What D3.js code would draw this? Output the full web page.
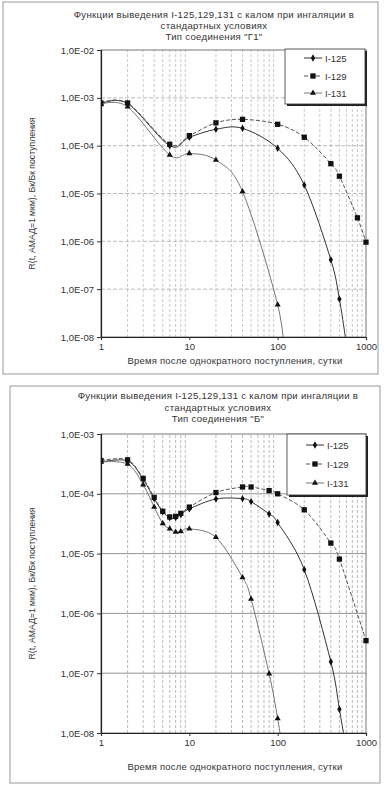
<!DOCTYPE html>
<html>
<head>
<meta charset="utf-8">
<script src="https://cdn.jsdelivr.net/npm/d3@7"></script>
<style>
  body { margin: 0; background: #fff; }
  svg { display: block; font-family: "Liberation Sans", Arial, sans-serif; }
</style>
</head>
<body>
<div id="chart"></div>
<script>
"use strict";

// Тип соединения "Г1"
const g1Days125 = [1, 2, 6, 10, 20, 40, 100, 200, 400, 500, 600];
const g1I125 = [7.5e-4, 7.6e-4, 1.0e-4, 1.5e-4, 2.2e-4, 2.3e-4, 8.8e-5, 1.5e-5, 4.1e-7, 6.2e-8, 7e-9];
const g1Days129 = [1, 2, 6, 10, 20, 40, 100, 200, 400, 500, 800, 1000];
const g1I129 = [7.8e-4, 7.8e-4, 1.07e-4, 1.62e-4, 3.0e-4, 3.55e-4, 2.8e-4, 1.5e-4, 4.2e-5, 2.3e-5, 3.1e-6, 9.6e-7];
const g1Days131 = [1, 2, 6, 10, 20, 40, 100, 120];
const g1I131 = [7.3e-4, 6.5e-4, 6.4e-5, 6.9e-5, 5.0e-5, 1.1e-5, 4.7e-8, 3e-9];

// Тип соединения "Б"
const bDays125 = [1, 2, 3, 4, 5, 6, 7, 8, 10, 20, 40, 50, 80, 100, 200, 400, 500, 600];
const bI125 = [3.4e-4, 3.55e-4, 1.75e-4, 8.3e-5, 5.0e-5, 4.0e-5, 4.0e-5, 4.5e-5, 5.6e-5, 8.2e-5, 8.3e-5, 7.4e-5, 4.6e-5, 3.3e-5, 5.4e-6, 1.55e-7, 2.5e-8, 5e-9];
const bDays129 = [1, 2, 3, 4, 5, 6, 7, 8, 10, 20, 40, 50, 80, 100, 200, 400, 500, 1000];
const bI129 = [3.6e-4, 3.7e-4, 1.81e-4, 8.7e-5, 5.1e-5, 4.1e-5, 4.2e-5, 4.7e-5, 6.0e-5, 1.05e-4, 1.3e-4, 1.3e-4, 1.13e-4, 1.0e-4, 5.4e-5, 1.5e-5, 8.1e-6, 3.5e-7];
const bDays131 = [1, 2, 3, 4, 5, 6, 7, 8, 10, 20, 40, 50, 80, 100, 120];
const bI131 = [3.4e-4, 3.15e-4, 1.42e-4, 6.0e-5, 3.2e-5, 2.6e-5, 2.3e-5, 2.35e-5, 2.6e-5, 1.87e-5, 4.0e-6, 1.74e-6, 9.8e-8, 1.75e-8, 3e-9];

const seriesNames = ["I-125", "I-129", "I-131"];
const xTickLabels = ["1", "10", "100", "1000"];
const titleLine1 = "Функции выведения I-125,129,131 с калом при ингаляции в";
const titleLine2 = "стандартных условиях";
const yTitle = "R(t, АМАД=1 мкм), Бк/Бк поступления";
const xTitle = "Время после однократного поступления, сутки";

const W = 387, H = 793;
const svg = d3.select("#chart").append("svg")
  .attr("width", W)
  .attr("height", H);

// series look: I-125 solid, I-129 dashed, I-131 thin
const looks = [
  { symbol: d3.symbolDiamond, size: 16, stroke: "#333", dash: null, width: 1 },
  { symbol: d3.symbolSquare, size: 28, stroke: "#555", dash: "4,2", width: 1 },
  { symbol: d3.symbolTriangle, size: 16, stroke: "#666", dash: null, width: 0.9 }
];

function fmtExp(d) {
  let e = Math.round(-Math.log10(d));
  return "1,0E-" + String(e).padStart(2, "0");
}

function drawPanel(cfg, idx) {
  let g = svg.append("g");

  // outer frame
  g.append("rect")
    .attr("x", cfg.frame[0]).attr("y", cfg.frame[1])
    .attr("width", cfg.frame[2]).attr("height", cfg.frame[3])
    .attr("fill", "#fff")
    .attr("stroke", "#999")
    .attr("stroke-width", 1);

  let x = d3.scaleLog().domain([1, 1000]).range([101, 366]);
  let y = d3.scaleLog().domain(cfg.yDomain).range(cfg.yRange);

  // title
  let titles = [titleLine1, titleLine2, cfg.subtitle];
  titles.forEach(function(t, i) {
    g.append("text")
      .attr("x", cfg.titleX)
      .attr("y", cfg.titleY[i])
      .attr("text-anchor", "middle")
      .attr("font-size", "9.6px")
      .attr("letter-spacing", "0.3px")
      .attr("fill", "#333")
      .text(t);
  });

  // vertical grid at 2..9 of each decade
  let minor = [];
  [1, 10, 100].forEach(function(dec) {
    for (let k = 2; k <= 9; k++) minor.push(dec * k);
  });
  g.append("g").selectAll("line").data(minor).join("line")
    .attr("x1", d => x(d)).attr("x2", d => x(d))
    .attr("y1", y.range()[0]).attr("y2", y.range()[1])
    .attr("stroke", cfg.vGrid)
    .attr("stroke-width", 0.8)
    .attr("stroke-dasharray", "3,2");

  // horizontal grid at decades
  let decades = [];
  for (let e = Math.log10(cfg.yDomain[0]); e <= Math.log10(cfg.yDomain[1]) + 0.01; e++) {
    decades.push(Math.pow(10, Math.round(e)));
  }
  g.append("g").selectAll("line").data(decades.slice(1, -1)).join("line")
    .attr("x1", x.range()[0]).attr("x2", x.range()[1])
    .attr("y1", d => y(d)).attr("y2", d => y(d))
    .attr("stroke", cfg.hGrid)
    .attr("stroke-width", 0.8)
    .attr("stroke-dasharray", cfg.hDash);

  // plot border top/right
  g.append("rect")
    .attr("x", x.range()[0]).attr("y", y.range()[1])
    .attr("width", x.range()[1] - x.range()[0])
    .attr("height", y.range()[0] - y.range()[1])
    .attr("fill", "none")
    .attr("stroke", "#777")
    .attr("stroke-width", 1);

  // axes
  let yAxis = d3.axisLeft(y)
    .tickValues(decades)
    .tickFormat(fmtExp)
    .tickSize(4)
    .tickPadding(3);
  let ya = g.append("g")
    .attr("transform", "translate(" + x.range()[0] + ",0)")
    .call(yAxis);
  ya.select(".domain").attr("stroke", "#222").attr("stroke-width", 1.2);
  ya.selectAll(".tick line").attr("stroke", "#333");
  ya.selectAll("text").attr("font-size", "9.5px").attr("fill", "#333")
    .attr("font-family", "Liberation Sans, Arial, sans-serif");

  let xAxis = d3.axisBottom(x)
    .tickValues([1, 10, 100, 1000])
    .tickFormat((d, i) => xTickLabels[i])
    .tickSize(3)
    .tickPadding(3);
  let xa = g.append("g")
    .attr("transform", "translate(0," + y.range()[0] + ")")
    .call(xAxis);
  xa.select(".domain").attr("stroke", "#222").attr("stroke-width", 1.2);
  xa.selectAll(".tick line").attr("stroke", "#333");
  xa.selectAll("text").attr("font-size", "9.5px").attr("fill", "#333")
    .attr("font-family", "Liberation Sans, Arial, sans-serif");

  // axis titles
  g.append("text")
    .attr("x", 235)
    .attr("y", cfg.xTitleY)
    .attr("text-anchor", "middle")
    .attr("font-size", "9.5px")
    .attr("letter-spacing", "0.2px")
    .attr("fill", "#333")
    .text(xTitle);

  let yMid = (y.range()[0] + y.range()[1]) / 2;
  g.append("text")
    .attr("transform", "translate(" + cfg.yTitleX + "," + yMid + ") rotate(-90)")
    .attr("text-anchor", "middle")
    .attr("font-size", "9.5px")
    .attr("textLength", cfg.yTitleLen)
    .attr("lengthAdjust", "spacingAndGlyphs")
    .attr("fill", "#333")
    .text(yTitle);

  // series
  let clipId = "clip" + idx;
  g.append("clipPath").attr("id", clipId)
    .append("rect")
    .attr("x", x.range()[0]).attr("y", y.range()[1])
    .attr("width", x.range()[1] - x.range()[0] + 4)
    .attr("height", y.range()[0] - y.range()[1]);

  let line = d3.line()
    .x(d => x(d[0]))
    .y(d => y(d[1]))
    .curve(d3.curveCardinal);

  let plot = g.append("g").attr("clip-path", "url(#" + clipId + ")");
  cfg.series.forEach(function(s, i) {
    let pts = d3.zip(s.days, s.values);
    let look = looks[i];
    plot.append("path")
      .datum(pts)
      .attr("d", line)
      .attr("fill", "none")
      .attr("stroke", look.stroke)
      .attr("stroke-width", look.width)
      .attr("stroke-dasharray", look.dash);
    plot.append("g").selectAll("path").data(pts).join("path")
      .attr("transform", d => "translate(" + x(d[0]) + "," + y(d[1]) + ")")
      .attr("d", d3.symbol().type(look.symbol).size(look.size))
      .attr("fill", "#111");
  });

  // legend with shadow
  let lg = g.append("g").attr("transform", "translate(" + cfg.legend[0] + "," + cfg.legend[1] + ")");
  lg.append("rect")
    .attr("x", 2).attr("y", 2)
    .attr("width", cfg.legend[2]).attr("height", cfg.legend[3])
    .attr("fill", "#222");
  lg.append("rect")
    .attr("x", 0).attr("y", 0)
    .attr("width", cfg.legend[2]).attr("height", cfg.legend[3])
    .attr("fill", "#fff")
    .attr("stroke", "#333")
    .attr("stroke-width", 0.8);
  seriesNames.forEach(function(name, i) {
    let look = looks[i];
    let ly = cfg.legendRows[i];
    lg.append("line")
      .attr("x1", 19).attr("x2", 37)
      .attr("y1", ly).attr("y2", ly)
      .attr("stroke", look.stroke)
      .attr("stroke-width", look.width)
      .attr("stroke-dasharray", look.dash);
    lg.append("path")
      .attr("transform", "translate(28," + ly + ")")
      .attr("d", d3.symbol().type(look.symbol).size(look.size))
      .attr("fill", "#111");
    lg.append("text")
      .attr("x", 40)
      .attr("y", ly + 3.5)
      .attr("font-size", "9.5px")
      .attr("fill", "#333")
      .text(name);
  });
}

drawPanel({
  frame: [3, 2, 375, 372],
  subtitle: "Тип соединения \"Г1\"",
  titleX: 214,
  titleY: [18, 29, 40],
  yDomain: [1e-8, 1e-2],
  yRange: [337, 50],
  vGrid: "#bbb",
  hGrid: "#aaa",
  hDash: "4,2",
  xTitleY: 364,
  yTitleX: 35,
  yTitleLen: 152,
  legend: [285, 49, 80, 55],
  legendRows: [9, 27, 44],
  series: [
    { days: g1Days125, values: g1I125 },
    { days: g1Days129, values: g1I129 },
    { days: g1Days131, values: g1I131 }
  ]
}, 0);

drawPanel({
  frame: [10, 386, 370, 397],
  subtitle: "Тип соединения \"Б\"",
  titleX: 218,
  titleY: [399, 411, 422],
  yDomain: [1e-8, 1e-3],
  yRange: [733, 434],
  vGrid: "#aaa",
  hGrid: "#777",
  hDash: null,
  xTitleY: 770,
  yTitleX: 35,
  yTitleLen: 152,
  legend: [287, 434, 79, 61],
  legendRows: [11, 30, 49],
  series: [
    { days: bDays125, values: bI125 },
    { days: bDays129, values: bI129 },
    { days: bDays131, values: bI131 }
  ]
}, 1);
</script>
</body>
</html>
